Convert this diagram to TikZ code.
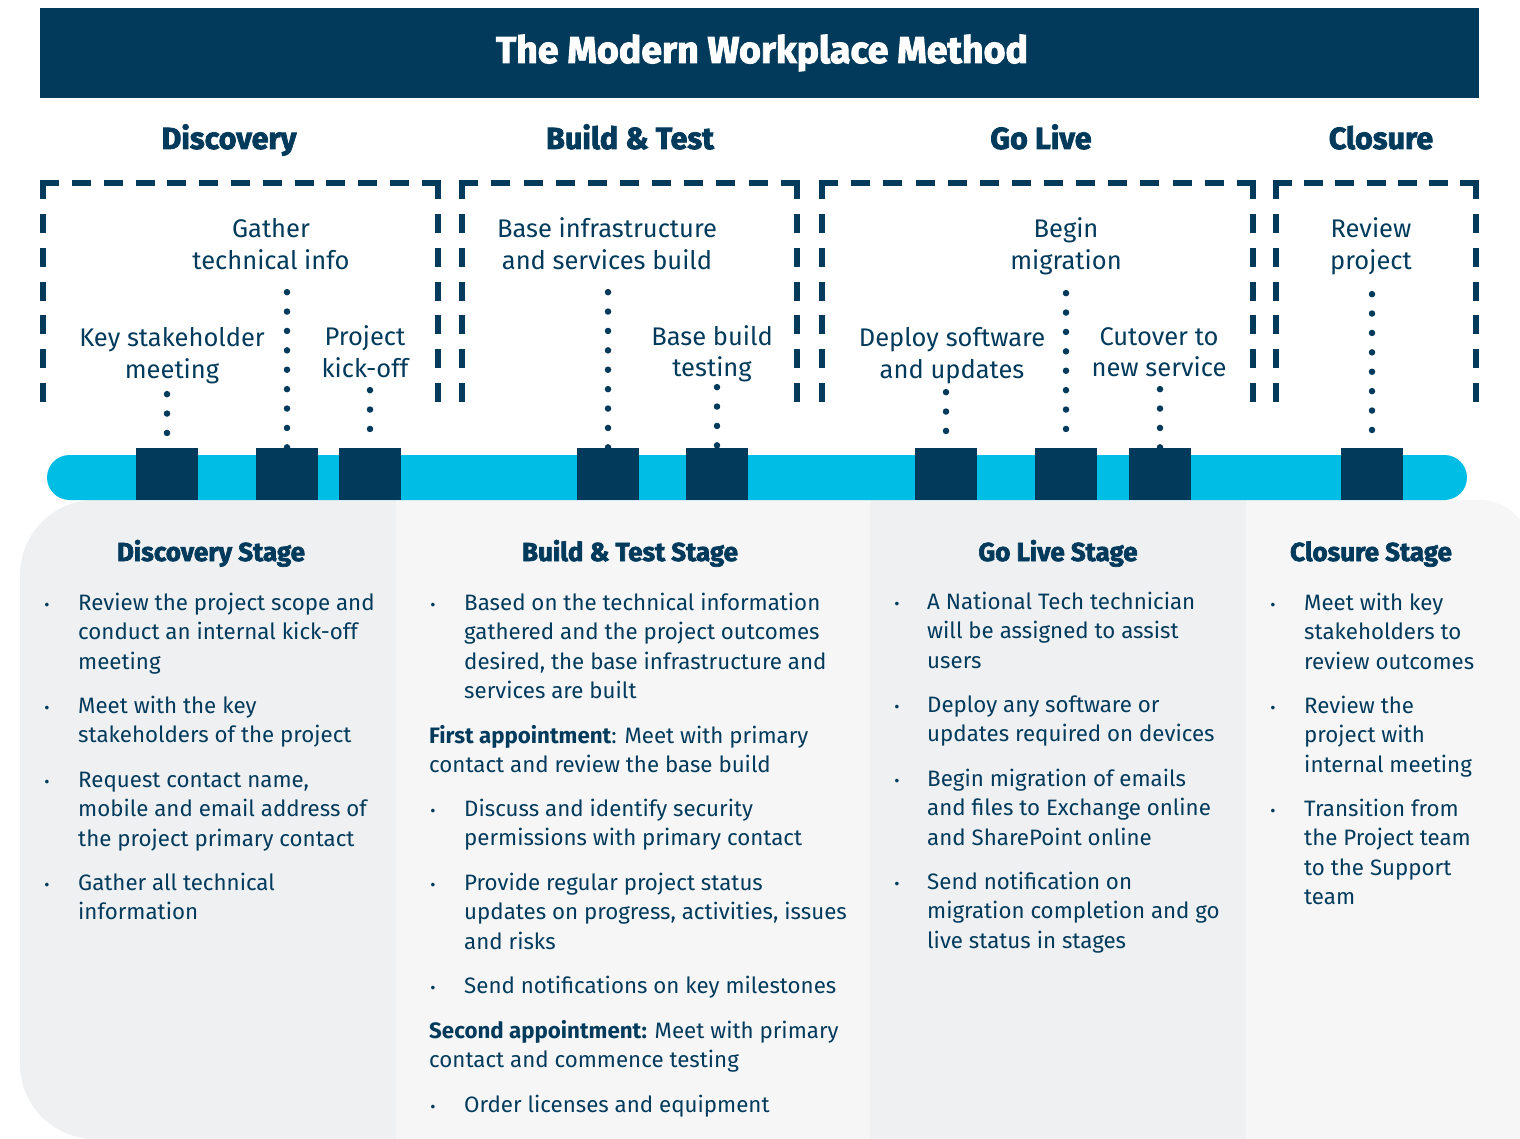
\documentclass[tikz,border=0pt]{standalone}
\usepackage{fontspec}
\setmainfont{Fira Sans}
\newfontfamily\heavy{Fira Sans}[BoldFeatures={FakeBold=2.5}]
\usetikzlibrary{calc}
\definecolor{navy}{HTML}{023A5C}
\definecolor{barcyan}{HTML}{00BDE6}
\definecolor{panelA}{HTML}{EFF0F2}
\definecolor{panelB}{HTML}{F6F6F7}
\tikzset{
 boxline/.style={draw=navy, line width=5.5pt},
 dotline/.style={draw=navy, line width=6.5pt, line cap=round, dash pattern=on 0pt off 19.4pt},
 sqr/.style={fill=navy, minimum width=62pt, minimum height=52pt, inner sep=0pt},
 lbl/.style={text=navy, inner sep=0pt, anchor=base, font=\fontsize{25.5}{31.5}\selectfont},
 phase/.style={text=navy, inner sep=0pt, anchor=base, font=\heavy\bfseries\fontsize{30.5}{34}\selectfont},
 stagehd/.style={text=navy, inner sep=0pt, anchor=base, font=\heavy\bfseries\fontsize{26}{30}\selectfont},
 body/.style={text=navy, inner sep=0pt, anchor=base west, font=\fontsize{22.3}{29.5}\selectfont},
 bulletmark/.style={text=navy, inner sep=0pt, anchor=base, font=\fontsize{16}{29.5}\selectfont},
}
\newcommand{\stagebox}[2]{%
  \pgfmathsetmacro{\bxoff}{(#2-#1+5.5-19)/round((#2-#1+5.5-19)/31)-19}%
  \draw[boxline, dash pattern=on 19pt off \bxoff pt] (#1-2.75,183) -- (#2+2.75,183);
  \draw[boxline, dash pattern=on 19pt off 14.79pt] (#1,180.25) -- (#1,402);
  \draw[boxline, dash pattern=on 19pt off 14.79pt] (#2,180.25) -- (#2,402);
}
\newcommand{\bpara}[5]{%
  \node[bulletmark] (#1b) at (#2,#4) {•};
  \node[body] (#1) at (#3,#4) {\begin{tabular}[t]{@{}l@{}}#5\end{tabular}};
}
\newcommand{\tpara}[4]{%
  \node[body] (#1) at (#2,#3) {\begin{tabular}[t]{@{}l@{}}#4\end{tabular}};
}
\begin{document}
\begin{tikzpicture}[x=1pt,y=-1pt]
\useasboundingbox (0,0) rectangle (1520,1139);
\fill[white] (0,0) rectangle (1520,1139);

% lower panel
\fill[panelA] (396,500) -- (95,500) arc[start angle=270, end angle=180, radius=75]
  -- (20,1064) arc[start angle=180, end angle=90, radius=75] -- (396,1139) -- cycle;
\fill[panelB] (396,500) rectangle (870,1139);
\fill[panelA] (870,500) rectangle (1246,1139);
\fill[panelB] (1246,500) -- (1480,500) arc[start angle=270, end angle=360, radius=50]
  -- (1530,1139) -- (1246,1139) -- cycle;

% title bar
\fill[navy] (40,8) rectangle (1479,98);
\node[text=white, inner sep=0pt, anchor=base, font=\heavy\bfseries\fontsize{37.5}{40}\selectfont] (title) at (762,63) {The Modern Workplace Method};

% phase headings
\node[phase] (hdisc) at (229,149) {Discovery};
\node[phase] (hbuild) at (630,149) {Build \& Test};
\node[phase] (hlive) at (1041,149) {Go Live};
\node[phase] (hclose) at (1381,149) {Closure};

% dashed boxes
\stagebox{43}{438}
\stagebox{462}{797}
\stagebox{822}{1253}
\stagebox{1276}{1476}

% milestone labels
\node[lbl] (gather) at (271,238) {\begin{tabular}[t]{@{}c@{}}Gather\\technical info\end{tabular}};
\node[lbl] (keysh) at (172,347) {\begin{tabular}[t]{@{}c@{}}Key stakeholder\\meeting\end{tabular}};
\node[lbl] (kick) at (365,346) {\begin{tabular}[t]{@{}c@{}}Project\\kick-off\end{tabular}};
\node[lbl] (infra) at (607,238) {\begin{tabular}[t]{@{}c@{}}Base infrastructure\\and services build\end{tabular}};
\node[lbl] (btest) at (712,345) {\begin{tabular}[t]{@{}c@{}}Base build\\testing\end{tabular}};
\node[lbl] (migr) at (1066,238) {\begin{tabular}[t]{@{}c@{}}Begin\\migration\end{tabular}};
\node[lbl] (deploy) at (952,347) {\begin{tabular}[t]{@{}c@{}}Deploy software\\and updates\end{tabular}};
\node[lbl] (cutover) at (1159,345) {\begin{tabular}[t]{@{}c@{}}Cutover to\\new service\end{tabular}};
\node[lbl] (review) at (1371,238) {\begin{tabular}[t]{@{}c@{}}Review\\project\end{tabular}};

% timeline bar
\fill[barcyan, rounded corners=22.5pt] (47,455) rectangle (1467,500);

% milestone anchor points
\coordinate (p1) at (167,448);
\coordinate (p2) at (287,448);
\coordinate (p3) at (370,448);
\coordinate (p4) at (608,448);
\coordinate (p5) at (717,448);
\coordinate (p6) at (946,448);
\coordinate (p7) at (1066,448);
\coordinate (p8) at (1160,448);
\coordinate (p9) at (1372,448);

% dotted connectors
\draw[dotline] ($(keysh.south -| p1)+(0,6)$) -- (p1);
\draw[dotline] ($(gather.south -| p2)+(0,13)$) -- (p2);
\draw[dotline] ($(kick.south -| p3)+(0,3)$) -- (p3);
\draw[dotline] ($(infra.south -| p4)+(0,13)$) -- (p4);
\draw[dotline] ($(btest.south -| p5)+(0,1)$) -- (p5);
\draw[dotline] ($(deploy.south -| p6)+(0,4)$) -- (p6);
\draw[dotline] ($(migr.south -| p7)+(0,14)$) -- (p7);
\draw[dotline] ($(cutover.south -| p8)+(0,3)$) -- (p8);
\draw[dotline] ($(review.south -| p9)+(0,15)$) -- (p9);

\foreach \n in {1,...,9}{
  \node[sqr, anchor=north] (s\n) at (p\n) {};
}

% stage headings
\node[stagehd] (sdisc) at (211,561) {Discovery Stage};
\node[stagehd] (sbuild) at (630,561) {Build \& Test Stage};
\node[stagehd] (slive) at (1058,561) {Go Live Stage};
\node[stagehd] (sclose) at (1371,561) {Closure Stage};

% Discovery column
\bpara{d1}{47}{78}{610}{Review the project scope and\\conduct an internal kick-off\\meeting}
\bpara{d2}{47}{78}{713}{Meet with the key\\stakeholders of the project}
\bpara{d3}{47}{78}{787}{Request contact name,\\mobile and email address of\\the project primary contact}
\bpara{d4}{47}{78}{890}{Gather all technical\\information}

% Build & Test column
\bpara{b1}{433}{464}{610}{Based on the technical information\\gathered and the project outcomes\\desired, the base infrastructure and\\services are built}
\tpara{b2}{429}{743}{{\bfseries First appointment}: Meet with primary\\contact and review the base build}
\bpara{b3}{433}{464}{816}{Discuss and identify security\\permissions with primary contact}
\bpara{b4}{433}{464}{890}{Provide regular project status\\updates on progress, activities, issues\\and risks}
\bpara{b5}{433}{464}{993}{Send notifications on key milestones}
\tpara{b6}{429}{1038}{{\bfseries Second appointment:} Meet with primary\\contact and commence testing}
\bpara{b7}{433}{464}{1112}{Order licenses and equipment}

% Go Live column
\bpara{g1}{897}{927}{609}{A National Tech technician\\will be assigned to assist\\users}
\bpara{g2}{897}{927}{712}{Deploy any software or\\updates required on devices}
\bpara{g3}{897}{927}{786}{Begin migration of emails\\and files to Exchange online\\and SharePoint online}
\bpara{g4}{897}{927}{889}{Send notification on\\migration completion and go\\live status in stages}

% Closure column
\bpara{c1}{1273}{1304}{610}{Meet with key\\stakeholders to\\review outcomes}
\bpara{c2}{1273}{1304}{713}{Review the\\project with\\internal meeting}
\bpara{c3}{1273}{1304}{816}{Transition from\\the Project team\\to the Support\\team}
\end{tikzpicture}
\end{document}
